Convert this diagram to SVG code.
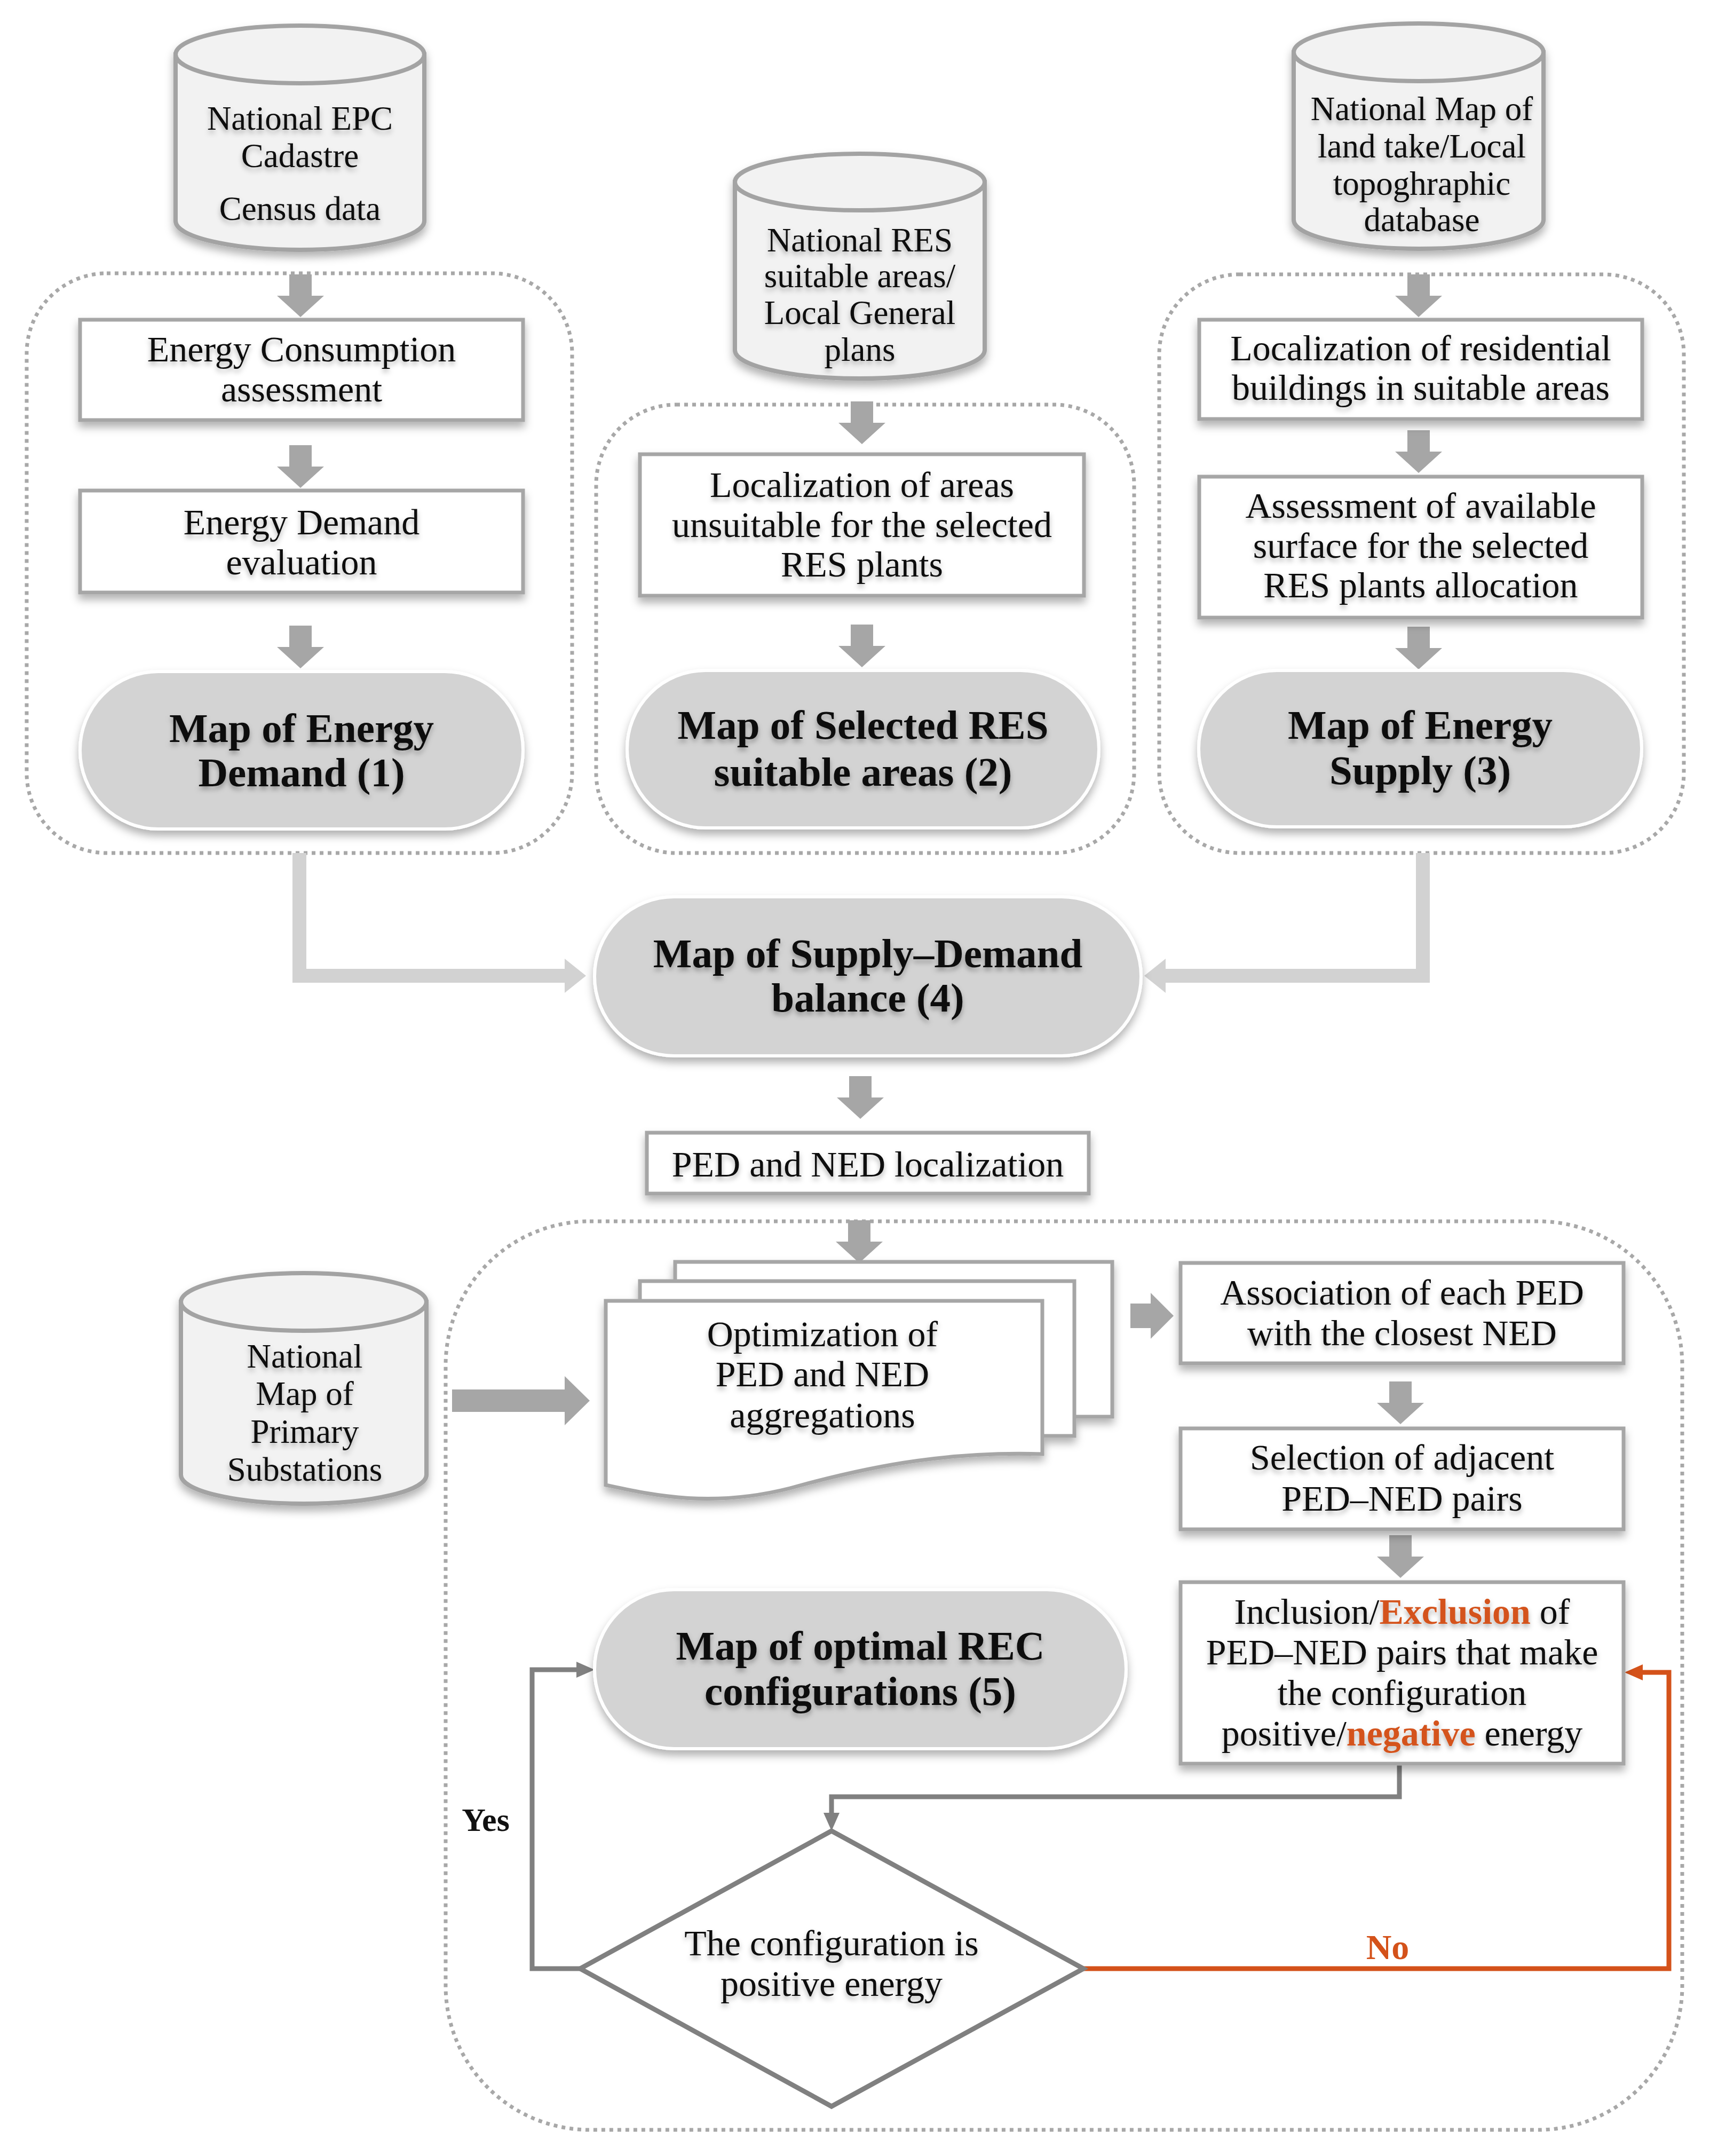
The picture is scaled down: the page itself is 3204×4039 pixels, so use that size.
<svg xmlns="http://www.w3.org/2000/svg" width="3204" height="4039" viewBox="0 0 3204 4039">
<defs>
<style>
.t{font-family:"Liberation Serif","Times New Roman",serif;font-size:68px;fill:#111;text-anchor:middle}
.c{font-size:63px}
.b{font-weight:bold;font-size:77px}
.o{fill:#D4521A;font-weight:bold}
.cont{fill:none;stroke:#A8A8A8;stroke-width:7;stroke-dasharray:7 8}
.box{fill:#fff;stroke:#A6A6A6;stroke-width:7}
.pill{fill:#D3D3D3;stroke:#fff;stroke-width:6}
.cyl{fill:#F2F2F2;stroke:#A3A3A3;stroke-width:8}
.arr{fill:#A6A6A6}
.lc{fill:none;stroke:#D2D2D2;stroke-width:26}
.gl{fill:none;stroke:#808080;stroke-width:9}
.ol{fill:none;stroke:#D4521A;stroke-width:9}
</style>
<filter id="sh" x="-10%" y="-15%" width="120%" height="140%"><feDropShadow dx="0" dy="10" stdDeviation="8" flood-color="#000" flood-opacity="0.3"/></filter>
<filter id="tsh" x="-5%" y="-20%" width="110%" height="150%"><feDropShadow dx="0" dy="6" stdDeviation="5" flood-color="#000" flood-opacity="0.3"/></filter>
<path id="da" d="M-21,0 H21 V40 H44 L0,80 L-44,40 H-21 Z"/>
<marker id="mg" markerUnits="userSpaceOnUse" markerWidth="34" markerHeight="30" refX="20" refY="15" orient="auto"><path d="M0,0 L34,15 L0,30 Z" fill="#808080"/></marker>
<marker id="mo" markerUnits="userSpaceOnUse" markerWidth="34" markerHeight="30" refX="20" refY="15" orient="auto"><path d="M0,0 L34,15 L0,30 Z" fill="#D4521A"/></marker>
</defs>
<rect width="3204" height="4039" fill="#fff"/>

<g id="containers">
<rect class="cont" x="50" y="512" width="1022" height="1086" rx="150"/>
<rect class="cont" x="1117" y="758" width="1008" height="840" rx="150"/>
<rect class="cont" x="2172" y="514" width="983" height="1084" rx="150"/>
<rect class="cont" x="835" y="2288" width="2317" height="1702" rx="270"/>
</g>

<g id="connectors">
<g class="arr">
<use href="#da" transform="translate(563,514)"/>
<use href="#da" transform="translate(563,834)"/>
<use href="#da" transform="translate(563,1172)"/>
<use href="#da" transform="translate(1615,752)"/>
<use href="#da" transform="translate(1615,1170)"/>
<use href="#da" transform="translate(2658,514)"/>
<use href="#da" transform="translate(2658,806)"/>
<use href="#da" transform="translate(2658,1174)"/>
<use href="#da" transform="translate(1612,2016)"/>
<use href="#da" transform="translate(1610,2286)"/>
<use href="#da" transform="translate(2624,2588)"/>
<use href="#da" transform="translate(2624,2876)"/>
<path d="M2118,2442 H2156 V2422 L2199,2465 L2156,2508 V2488 H2118 Z"/>
<path d="M847,2603 H1058 V2578 L1105,2624 L1058,2670 V2645 H847 Z"/>
</g>
<path class="lc" d="M561,1598 V1828 H1062"/>
<polygon points="1058,1796 1098,1828 1058,1860" fill="#D2D2D2"/>
<path class="lc" d="M2666,1598 V1828 H2180"/>
<polygon points="2184,1796 2144,1828 2184,1860" fill="#D2D2D2"/>
<path class="gl" d="M2622,3304 V3366 H1558 V3416" marker-end="url(#mg)"/>
<path class="gl" d="M1087,3688 H997 V3128 H1100" marker-end="url(#mg)"/>
<path class="ol" d="M2030,3688 H3127 V3133 H3058" marker-end="url(#mo)"/>
<text class="t b" x="910" y="3430" style="font-size:62px">Yes</text>
<text class="t b" x="2600" y="3670" style="font-size:66px;fill:#D4521A">No</text>
</g>

<g id="cyl1">
<g filter="url(#sh)"><path class="cyl" d="M329,102 V414 A233,54 0 0 0 795,414 V102 Z"/><ellipse class="cyl" cx="562" cy="102" rx="233" ry="54"/></g>
<g filter="url(#tsh)"><text class="t c" x="562" y="243">National EPC</text><text class="t c" x="562" y="313">Cadastre</text><text class="t c" x="562" y="412">Census data</text></g>
</g>
<g id="cyl2">
<g filter="url(#sh)"><path class="cyl" d="M1377,341 V656 A234,53 0 0 0 1845,656 V341 Z"/><ellipse class="cyl" cx="1611" cy="341" rx="234" ry="53"/></g>
<g filter="url(#tsh)"><text class="t c" x="1611" y="471">National RES</text><text class="t c" x="1611" y="538">suitable areas/</text><text class="t c" x="1611" y="607">Local General</text><text class="t c" x="1611" y="676">plans</text></g>
</g>
<g id="cyl3">
<g filter="url(#sh)"><path class="cyl" d="M2424,98 V412 A234,54 0 0 0 2892,412 V98 Z"/><ellipse class="cyl" cx="2658" cy="98" rx="234" ry="54"/></g>
<g filter="url(#tsh)"><text class="t c" x="2664" y="225">National Map of</text><text class="t c" x="2664" y="295">land take/Local</text><text class="t c" x="2664" y="365">topoghraphic</text><text class="t c" x="2664" y="433">database</text></g>
</g>
<g id="cyl4">
<g filter="url(#sh)"><path class="cyl" d="M339,2439 V2763 A230,54 0 0 0 799,2763 V2439 Z"/><ellipse class="cyl" cx="569" cy="2439" rx="230" ry="54"/></g>
<g filter="url(#tsh)"><text class="t c" x="571" y="2562">National</text><text class="t c" x="571" y="2632">Map of</text><text class="t c" x="571" y="2703">Primary</text><text class="t c" x="571" y="2774">Substations</text></g>
</g>

<g id="box1"><rect class="box" x="150" y="599" width="830" height="188" filter="url(#sh)"/>
<g filter="url(#tsh)"><text class="t" x="565" y="677">Energy Consumption</text><text class="t" x="565" y="752">assessment</text></g></g>
<g id="box2"><rect class="box" x="150" y="919" width="830" height="191" filter="url(#sh)"/>
<g filter="url(#tsh)"><text class="t" x="565" y="1001">Energy Demand</text><text class="t" x="565" y="1076">evaluation</text></g></g>
<g id="pill1"><rect class="pill" x="150" y="1258" width="830" height="295" rx="147" filter="url(#sh)"/>
<g filter="url(#tsh)"><text class="t b" x="565" y="1390">Map of Energy</text><text class="t b" x="565" y="1473">Demand (1)</text></g></g>

<g id="box3"><rect class="box" x="1199" y="851" width="832" height="265" filter="url(#sh)"/>
<g filter="url(#tsh)"><text class="t" x="1615" y="931">Localization of areas</text><text class="t" x="1615" y="1006">unsuitable for the selected</text><text class="t" x="1615" y="1080">RES plants</text></g></g>
<g id="pill2"><rect class="pill" x="1175" y="1256" width="884" height="295" rx="147" filter="url(#sh)"/>
<g filter="url(#tsh)"><text class="t b" x="1617" y="1384">Map of Selected RES</text><text class="t b" x="1617" y="1472">suitable areas (2)</text></g></g>

<g id="box4"><rect class="box" x="2247" y="599" width="830" height="186" filter="url(#sh)"/>
<g filter="url(#tsh)"><text class="t" x="2662" y="675">Localization of residential</text><text class="t" x="2662" y="749">buildings in suitable areas</text></g></g>
<g id="box5"><rect class="box" x="2247" y="893" width="830" height="264" filter="url(#sh)"/>
<g filter="url(#tsh)"><text class="t" x="2662" y="970">Assessment of available</text><text class="t" x="2662" y="1045">surface for the selected</text><text class="t" x="2662" y="1119">RES plants allocation</text></g></g>
<g id="pill3"><rect class="pill" x="2246" y="1256" width="830" height="293" rx="146" filter="url(#sh)"/>
<g filter="url(#tsh)"><text class="t b" x="2661" y="1384">Map of Energy</text><text class="t b" x="2661" y="1469">Supply (3)</text></g></g>

<g id="pill4"><rect class="pill" x="1114" y="1680" width="1024" height="298" rx="149" filter="url(#sh)"/>
<g filter="url(#tsh)"><text class="t b" x="1626" y="1812">Map of Supply–Demand</text><text class="t b" x="1626" y="1895">balance (4)</text></g></g>

<g id="ped"><rect class="box" x="1212" y="2122" width="828" height="114" filter="url(#sh)"/>
<g filter="url(#tsh)"><text class="t" x="1626" y="2204">PED and NED localization</text></g></g>

<g id="optim">
<g filter="url(#sh)">
<rect class="box" x="1265" y="2364" width="819" height="290"/>
<rect class="box" x="1199" y="2400" width="814" height="290"/>
<path class="box" d="M1135,2437 H1953 V2724 C1760,2718 1610,2752 1480,2788 C1330,2826 1220,2800 1135,2782 Z"/>
</g>
<g filter="url(#tsh)"><text class="t" x="1541" y="2522">Optimization of</text><text class="t" x="1541" y="2597">PED and NED</text><text class="t" x="1541" y="2674">aggregations</text></g>
</g>

<g id="assoc"><rect class="box" x="2212" y="2366" width="830" height="188" filter="url(#sh)"/>
<g filter="url(#tsh)"><text class="t" x="2627" y="2444">Association of each PED</text><text class="t" x="2627" y="2520">with the closest NED</text></g></g>
<g id="select"><rect class="box" x="2212" y="2676" width="830" height="189" filter="url(#sh)"/>
<g filter="url(#tsh)"><text class="t" x="2627" y="2753">Selection of adjacent</text><text class="t" x="2627" y="2830">PED–NED pairs</text></g></g>
<g id="incl"><rect class="box" x="2212" y="2964" width="830" height="340" filter="url(#sh)"/>
<g filter="url(#tsh)"><text class="t" x="2627" y="3042">Inclusion/<tspan class="o">Exclusion</tspan> of</text><text class="t" x="2627" y="3118">PED–NED pairs that make</text><text class="t" x="2627" y="3194">the configuration</text><text class="t" x="2627" y="3270">positive/<tspan class="o">negative</tspan> energy</text></g></g>

<g id="pill5"><rect class="pill" x="1114" y="2978" width="996" height="298" rx="149" filter="url(#sh)"/>
<g filter="url(#tsh)"><text class="t b" x="1612" y="3109">Map of optimal REC</text><text class="t b" x="1612" y="3194">configurations (5)</text></g></g>

<g id="decision"><polygon points="1558,3430 2030,3688 1558,3946 1087,3688" fill="#fff" stroke="#808080" stroke-width="9"/>
<g filter="url(#tsh)"><text class="t" x="1558" y="3663">The configuration is</text><text class="t" x="1558" y="3739">positive energy</text></g></g>
</svg>
